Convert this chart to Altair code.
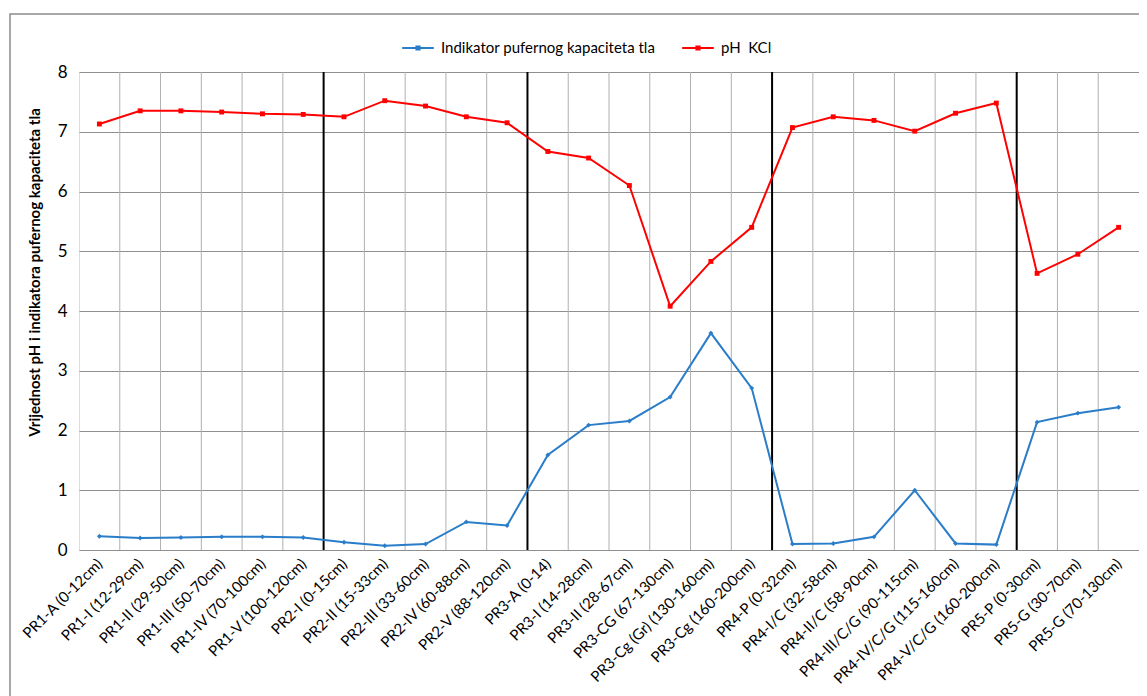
import json
import altair as alt
import pandas as pd

categories = [
    "PR1-A (0-12cm)", "PR1-I (12-29cm)", "PR1-II (29-50cm)", "PR1-III (50-70cm)",
    "PR1-IV (70-100cm)", "PR1-V (100-120cm)", "PR2-I (0-15cm)", "PR2-II (15-33cm)",
    "PR2-III (33-60cm)", "PR2-IV (60-88cm)", "PR2-V (88-120cm)", "PR3-A (0-14)",
    "PR3-I (14-28cm)", "PR3-II (28-67cm)", "PR3-CG (67-130cm)", "PR3-Cg (Gr) (130-160cm)",
    "PR3-Cg (160-200cm)", "PR4-P (0-32cm)", "PR4-I/C (32-58cm)", "PR4-II/C (58-90cm)",
    "PR4-III/C/G (90-115cm)", "PR4-IV/C/G (115-160cm)", "PR4-V/C/G (160-200cm)",
    "PR5-P (0-30cm)", "PR5-G (30-70cm)", "PR5-G (70-130cm)",
]

ph_kcl = [7.13, 7.35, 7.35, 7.33, 7.30, 7.29, 7.25, 7.52, 7.43, 7.25, 7.15,
          6.67, 6.56, 6.10, 4.08, 4.83, 5.40, 7.07, 7.25, 7.19, 7.01, 7.31,
          7.48, 4.63, 4.95, 5.40]

indikator = [0.23, 0.20, 0.21, 0.22, 0.22, 0.21, 0.13, 0.07, 0.10, 0.47, 0.41,
             1.59, 2.09, 2.16, 2.56, 3.63, 2.71, 0.10, 0.11, 0.22, 1.00, 0.11,
             0.09, 2.14, 2.29, 2.39]

series_names = ["Indikator pufernog kapaciteta tla", "pH\u00a0 KCl"]
series_colors = ["#2A7DC9", "#FF0000"]
series_shapes = ["diamond", "square"]
y_title = "Vrijednost pH i indikatora pufernog kapaciteta tla"

FONT = "Lato"
n = len(categories)

rows = []
for i, c in enumerate(categories):
    rows.append({"idx": i + 1, "cat": c, "series": series_names[0], "value": indikator[i]})
    rows.append({"idx": i + 1, "cat": c, "series": series_names[1], "value": ph_kcl[i]})
df = pd.DataFrame(rows)

# grid boundaries between categories, and profile (PR1..PR5) dividers
prefixes = [c.split("-")[0] for c in categories]
grid_df = pd.DataFrame({"b": [i + 1.5 for i in range(n - 1)]})
div_df = pd.DataFrame({"b": [i + 1.5 for i in range(n - 1) if prefixes[i] != prefixes[i + 1]]})

label_expr = json.dumps(categories) + "[datum.value - 1]"

xscale = alt.Scale(domain=[0.5, n + 0.5], nice=False, zero=False)
yscale = alt.Scale(domain=[0, 8], nice=False)
cscale = alt.Scale(domain=series_names, range=series_colors)

base = alt.Chart(df)

x_enc = alt.X(
    "idx:Q", scale=xscale, title=None,
    axis=alt.Axis(values=list(range(1, n + 1)), labelExpr=label_expr, grid=False,
                  ticks=False, domain=False, labelAngle=-45, labelAlign="right",
                  labelBaseline="middle", labelFontSize=15, labelFont=FONT,
                  labelColor="#000000", labelPadding=11, labelOverlap=False,
                  labelBound=False, labelLimit=400),
)
y_enc = alt.Y(
    "value:Q", scale=yscale, title=y_title,
    axis=alt.Axis(values=list(range(0, 9)), format="d", grid=True, gridColor="#8f8f8f",
                  gridWidth=1, ticks=False, domain=False, labelFontSize=17,
                  labelFont=FONT, labelColor="#000000", labelPadding=12,
                  titleFont=FONT, titleFontSize=15, titleFontWeight="bold",
                  titleColor="#000000", titlePadding=15, titleY=200),
)

legend_path = "M-1,0L1,0M-0.1,-0.1L0.1,-0.1L0.1,0.1L-0.1,0.1Z"

lines = base.mark_line(strokeWidth=2).encode(
    x=x_enc, y=y_enc,
    color=alt.Color("series:N", scale=cscale, title=None,
                    legend=alt.Legend(orient="none", legendX=322, legendY=-41,
                                      direction="horizontal", symbolType=legend_path,
                                      symbolSize=1000, symbolStrokeWidth=2,
                                      labelFont=FONT, labelFontSize=15, labelLimit=400,
                                      labelColor="#000000", columnPadding=22,
                                      labelOffset=6)),
    detail="series:N",
)

point_layers = []
for name, shp in zip(series_names, series_shapes):
    point_layers.append(
        base.transform_filter(alt.datum.series == name)
        .mark_point(filled=True, opacity=1, size=24, shape=shp)
        .encode(
            x=alt.X("idx:Q", scale=xscale),
            y=alt.Y("value:Q", scale=yscale),
            color=alt.Color("series:N", scale=cscale, legend=None),
        )
    )

grid = alt.Chart(grid_df).mark_rule(color="#b0b0b0", strokeWidth=1).encode(
    x=alt.X("b:Q", scale=xscale),
)
dividers = alt.Chart(div_df).mark_rule(color="#000000", strokeWidth=2).encode(
    x=alt.X("b:Q", scale=xscale),
)

frame = alt.Chart(pd.DataFrame({"k": [0]})).mark_rect(
    fill=None, stroke="#8c8c8c", strokeWidth=1.5
).encode(
    x=alt.value(-69), x2=alt.value(1075), y=alt.value(-58), y2=alt.value(650)
)

chart = alt.layer(frame, grid, dividers, lines, *point_layers).properties(
    width=1060, height=478,
    autosize=alt.AutoSizeParams(type="none"),
    padding={"left": 71, "top": 64, "right": 0, "bottom": 146},
).configure_view(stroke="#a8a8a8", strokeWidth=1).configure(background="white")

chart.save("out.html", embed_options={"renderer": "svg", "actions": False})
